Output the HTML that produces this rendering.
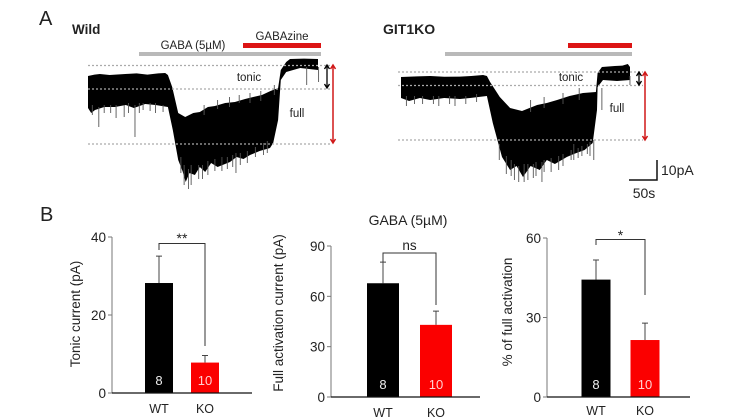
<!DOCTYPE html>
<html>
<head>
<meta charset="utf-8">
<style>
html,body{margin:0;padding:0;background:#fff;width:732px;height:420px;overflow:hidden}
svg{display:block}
text{font-family:"Liberation Sans",sans-serif;fill:#222}
</style>
</head>
<body>
<svg id="fig" width="732" height="420" viewBox="0 0 732 420" xmlns="http://www.w3.org/2000/svg">
  <defs><filter id="soft" x="-5%" y="-5%" width="110%" height="110%"><feGaussianBlur stdDeviation="0.35"/></filter></defs>
  <text x="39" y="25" font-size="20">A</text>
  <text x="40" y="221" font-size="20">B</text>
  <text x="72" y="34" font-size="13.5" font-weight="bold">Wild</text>
  <text x="383" y="34" font-size="14" font-weight="bold">GIT1KO</text>
  <text x="193" y="49" font-size="11.5" text-anchor="middle">GABA (5µM)</text>
  <text x="282" y="40" font-size="11.5" text-anchor="middle">GABAzine</text>
  <rect x="139" y="52" width="182" height="4" fill="#b9b9b9"/>
  <rect x="243" y="43" width="78" height="5" fill="#dc1414"/>
  <rect x="445" y="52" width="187" height="4" fill="#b9b9b9"/>
  <rect x="568" y="43" width="64" height="5" fill="#dc1414"/>
  <g id="traces" filter="url(#soft)"></g>
  <g id="guides"></g>
  <text x="249" y="81" font-size="11.5" text-anchor="middle">tonic</text>
  <text x="297" y="117" font-size="11.5" text-anchor="middle">full</text>
  <text x="571" y="81" font-size="11.5" text-anchor="middle">tonic</text>
  <text x="617" y="112" font-size="11.5" text-anchor="middle">full</text>
  <path d="M629 180H657V160" fill="none" stroke="#111" stroke-width="1.5"/>
  <text x="661" y="175" font-size="14">10pA</text>
  <text x="644" y="198" font-size="14" text-anchor="middle">50s</text>
  <text x="408" y="225" font-size="14" text-anchor="middle">GABA (5µM)</text>
  <g id="charts"></g>
</svg>
<script>
// Bar chart data
const categories = ['WT', 'KO'];
const sampleSizes = ['8', '10'];
const tonicValues = [28.2, 7.8];
const tonicErrors = [6.9, 1.8];
const tonicTicks = [0, 20, 40];
const fullValues = [67.8, 43];
const fullErrors = [12.6, 8.2];
const fullTicks = [0, 30, 60, 90];
const percentValues = [44.3, 21.5];
const percentErrors = [7.4, 6.4];
const percentTicks = [0, 30, 60];

// Trace envelopes: seconds, pA relative to the GABAzine level
const wildTime = [0,12,22,40,69,90,110,130,143,148,156,167,180,195,207,222,235,254,272,291,306,322,338,352,357,367,374,400,426];
const wildUpper = [-5.5,-4.8,-4.5,-5,-4.5,-4.2,-4.8,-4.2,-4,-5,-11,-24,-26,-24,-23.5,-21,-20.5,-19,-18.5,-17,-16,-15,-13,-11.5,-2.5,1.5,3,3.2,3];
const wildLowerTime = [0,6,13,30,50,70,85,106,125,148,157,167,175,181,188,198,207,217,228,240,263,275,288,300,318,337,343,352,357,367,393,426];
const wildLower = [-21.5,-24,-22.5,-21,-21,-20,-21.5,-19.5,-20,-21,-32.5,-47.5,-53,-58.5,-54,-55,-51,-53.5,-49,-51,-48.5,-46,-47,-45,-43,-41.5,-39,-27.5,-7.5,-3.5,-1.5,-2.5];
const wildSpikeTime = [20,52,67,87,102,139,191,274,405,427,8,30,42,75,95,115,125,172,178,186,205,212,222,235,248,258,268,282,295,310,325,332,215,240,262,280,300,320,345];
const wildSpikeTip = [-31,-26.5,-26,-36,-22.5,-23.5,-60,-54,-10,-8.5,-25,-24,-24,-24,-24,-23,-24,-54,-60,-62,-57,-57,-55,-53,-53,-52,-51,-50,-49,-46,-45,-44,-20,-17.5,-16,-15,-14,-13,-10];
const wildSpikeBase = [-21,-20,-20,-20,-19,-20,-50,-44,-1,-1,-20,-20,-20,-19,-19,-19,-19,-46,-50,-52,-50,-50,-48,-47,-46,-46,-45,-44,-43,-41,-39,-38,-25,-22,-21,-19,-19,-18,-15];

const koTime = [0,30,54,80,109,130,152,159,165,183,202,224,238,252,270,289,312,337,361,364,372,396,410,420,424];
const koUpper = [-2.5,-2.2,-2,-2.4,-2.3,-2,-1.5,-2,-5,-12.5,-18,-19.5,-18,-16.5,-15.5,-14,-12,-10.5,-10,-0.5,2.5,3,3.2,4,2.5];
const koLowerTime = [0,15,35,54,80,109,128,159,170,187,202,214,226,240,257,270,285,307,320,340,355,363,364,374,400,424];
const koLower = [-13,-14.5,-13,-14,-13,-13.5,-13,-12,-25.5,-42.5,-49,-47,-52.5,-47,-49,-44,-46,-42.5,-41,-39,-35.5,-19,-7.5,-4,-4.5,-4];
const koSpikeTime = [60,182,204,228,261,320,357,372,424,10,25,40,70,90,100,120,140,195,210,218,235,245,250,265,278,292,300,315,328,335,345,350,240,265,300,330];
const koSpikeTip = [-16,-44,-52,-55,-55,-44,-44,-19,-6.5,-17,-16,-16,-17,-16,-17,-16,-15,-51,-54,-55,-54,-53,-52,-50,-50,-49,-47,-44,-43,-42,-41,-42,-14,-12.5,-10.5,-8];
const koSpikeBase = [-12,-36,-44,-46,-45,-36,-34,-8,-2,-12,-12,-12,-12,-12,-12,-12,-11,-42,-46,-47,-46,-46,-45,-44,-43,-42,-41,-39,-38,-37,-36,-35,-20,-18,-16,-14];

const SVGNS = 'http://www.w3.org/2000/svg';
function mk(tag, attrs, parent) {
  const el = document.createElementNS(SVGNS, tag);
  for (const k in attrs) el.setAttribute(k, attrs[k]);
  parent.appendChild(el);
  return el;
}

// Traces
const tracesG = document.getElementById('traces');
function drawTrace(name, x0, y0, tU, u, tL, l, sT, sTip, sBase) {
  const sx = t => x0 + t * 0.54;
  const sy = i => y0 - i * 2;
  const pts = [];
  tU.forEach((t, k) => pts.push(sx(t).toFixed(1) + ',' + sy(u[k]).toFixed(1)));
  for (let k = tL.length - 1; k >= 0; k--) pts.push(sx(tL[k]).toFixed(1) + ',' + sy(l[k]).toFixed(1));
  const poly = mk('polygon', {points: pts.join(' '), fill: '#000'}, tracesG);
  
  
  sT.forEach((t, k) => {
    const ln = mk('line', {x1: sx(t), x2: sx(t), y1: sy(sBase[k]), y2: sy(sTip[k]), stroke: '#555', 'stroke-width': 0.9}, tracesG);
    
    
  });
}
drawTrace('wild', 88, 65, wildTime, wildUpper, wildLowerTime, wildLower, wildSpikeTime, wildSpikeTip, wildSpikeBase);
drawTrace('ko', 401, 72, koTime, koUpper, koLowerTime, koLower, koSpikeTime, koSpikeTip, koSpikeBase);

// Guides and arrows
const guidesG = document.getElementById('guides');
function guideLine(x1, x2, y) {
  const a = mk('line', {x1: x1, x2: x2, y1: y, y2: y, stroke: '#aaa', 'stroke-width': 1.2, 'stroke-dasharray': '2 2'}, guidesG);
  
  
}
function arrow(x, y1, y2, color, w) {
  const p = mk('path', {d: 'M' + x + ' ' + y1 + 'V' + y2 + 'M' + (x - 2.5) + ' ' + (y1 + 4) + 'L' + x + ' ' + y1 + 'L' + (x + 2.5) + ' ' + (y1 + 4) + 'M' + (x - 2.5) + ' ' + (y2 - 4) + 'L' + x + ' ' + y2 + 'L' + (x + 2.5) + ' ' + (y2 - 4), stroke: color, 'stroke-width': w, fill: 'none'}, guidesG);
  
  
}
guideLine(88, 332, 65.5); guideLine(88, 332, 89); guideLine(88, 332, 144);
guideLine(398, 643, 72); guideLine(398, 643, 85.5); guideLine(398, 643, 140);
arrow(327, 65, 88, '#000', 1.3); arrow(333, 65, 143, '#d01818', 1.5);
arrow(639, 72, 85, '#000', 1.3); arrow(645, 72, 140, '#d01818', 1.5);

// Bar charts
const chartsG = document.getElementById('charts');
function drawChart(c) {
  const sy = v => c.y0 - (v / c.max) * (c.y0 - c.yTop);
  const g = mk('g', {}, chartsG);
  
  
  const yAxis = mk('line', {x1: c.x0, x2: c.x0, y1: c.yTop, y2: c.y0, stroke: '#777', 'stroke-width': 1}, g);
  
  
  c.ticks.forEach(t => {
    const tk = mk('line', {x1: c.x0 - 4, x2: c.x0, y1: sy(t), y2: sy(t), stroke: '#777', 'stroke-width': 1}, g);
    
    
    const lb = mk('text', {x: c.x0 - 6, y: sy(t) + 5, 'font-size': 13.5, 'text-anchor': 'end'}, g);
    lb.textContent = t;
    
    
  });
  const title = mk('text', {x: c.titleX, y: c.titleY, 'font-size': 13.5, 'text-anchor': 'middle', transform: 'rotate(-90 ' + c.titleX + ' ' + c.titleY + ')'}, g);
  title.textContent = c.title;
  
  
  c.values.forEach((v, k) => {
    const cx = c.centers[k];
    const err = mk('path', {d: 'M' + cx + ' ' + sy(v) + 'V' + sy(v + c.errors[k]) + 'M' + (cx - 3) + ' ' + sy(v + c.errors[k]) + 'H' + (cx + 3), stroke: '#444', 'stroke-width': 1, fill: 'none'}, g);
    
    
    const bar = mk('rect', {x: cx - c.barW / 2, y: sy(v), width: c.barW, height: c.y0 - sy(v), fill: k ? '#fb0000' : '#000'}, g);
    
    
    const n = mk('text', {x: cx, y: c.y0 - 8, 'font-size': 13, 'text-anchor': 'middle', style: 'fill:' + (k ? '#ffd0d0' : '#eee')}, g);
    n.textContent = sampleSizes[k];
    
    
    const cat = mk('text', {x: cx, y: c.catY, 'font-size': 12.5, 'text-anchor': 'middle'}, g);
    cat.textContent = categories[k];
    
    
  });
  const xAxis = mk('line', {x1: c.x0, x2: c.xEnd, y1: c.y0, y2: c.y0, stroke: '#111', 'stroke-width': 1.2}, g);
  
  
  const br = mk('path', {d: 'M' + c.centers[0] + ' ' + c.brL + 'V' + c.brY + 'H' + c.centers[1] + 'V' + c.brR, fill: 'none', stroke: '#333', 'stroke-width': 1}, g);
  
  
  const sig = mk('text', {x: (c.centers[0] + c.centers[1]) / 2, y: c.sigY, 'font-size': c.sigSize, 'text-anchor': 'middle'}, g);
  sig.textContent = c.sig;
  
  
}
drawChart({name: 'tonic', title: 'Tonic current (pA)', titleX: 80, titleY: 314, values: tonicValues, errors: tonicErrors, ticks: tonicTicks, max: 40, x0: 112, xEnd: 252, y0: 393, yTop: 237, centers: [159, 205], barW: 28, catY: 413, brY: 243.5, brL: 250, brR: 346, sig: '**', sigY: 243, sigSize: 14});
drawChart({name: 'full', title: 'Full activation current (pA)', titleX: 283, titleY: 313, values: fullValues, errors: fullErrors, ticks: fullTicks, max: 90, x0: 331, xEnd: 480, y0: 397, yTop: 246, centers: [383, 436], barW: 32, catY: 417, brY: 253, brL: 262, brR: 305, sig: 'ns', sigY: 250, sigSize: 13.5});
drawChart({name: 'percent', title: '% of full activation', titleX: 512, titleY: 312, values: percentValues, errors: percentErrors, ticks: percentTicks, max: 60, x0: 547, xEnd: 690, y0: 397, yTop: 238, centers: [596, 645], barW: 29, catY: 415, brY: 239.5, brL: 245, brR: 295, sig: '*', sigY: 240, sigSize: 14});
</script>
</body>
</html>
